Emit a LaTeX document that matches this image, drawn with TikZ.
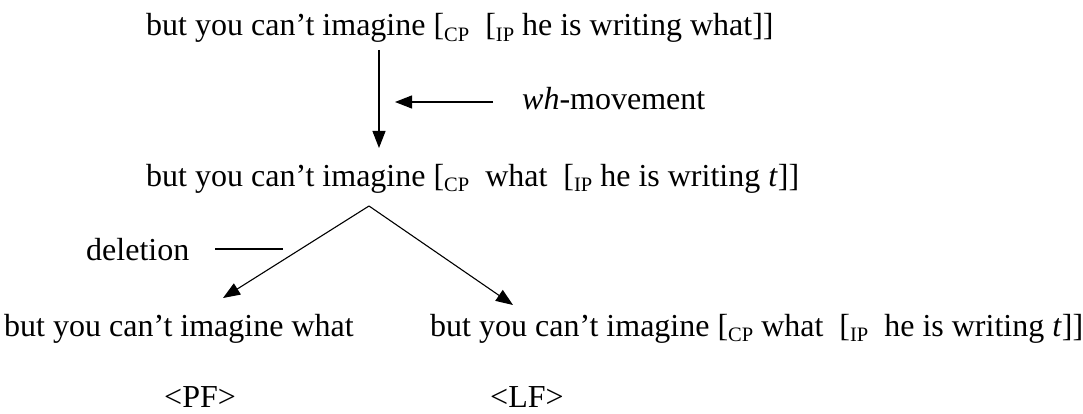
\documentclass[tikz,border=0pt]{standalone}
\usepackage{fontspec}
\setmainfont{Liberation Serif}
\usetikzlibrary{arrows.meta}
\newcommand{\phlab}[1]{\raisebox{-0.35ex}{\fontsize{20.5}{20.5}\selectfont #1}}
\begin{document}
\begin{tikzpicture}[x=1pt,y=-1pt,
  txt/.style={inner sep=0pt, anchor=base west, font=\fontsize{32}{38}\selectfont},
  arr/.style={-{Triangle[length=17pt,width=13pt]}, line width=1.1pt},
  ln/.style={line width=1.1pt}]
\useasboundingbox (0,0) rectangle (1083,414);
\node[txt] (l1) at (146,36) {but you can’t imagine [\phlab{CP}\ \ [\phlab{IP} he is writing what]]};
\coordinate (v1) at (379,50);
\coordinate (v2) at (379,148);
\draw[arr] (v1) -- (v2);
\coordinate (h1) at (493,102);
\coordinate (h2) at (395,102);
\draw[arr] (h1) -- (h2);
\node[txt] (wh) at (522,110) {\textit{wh}-movement};
\node[txt] (l2) at (146,186) {but you can’t imagine [\phlab{CP}\ \ what\ \ [\phlab{IP} he is writing \textit{t}]]};
\coordinate (apex) at (369,206);
\coordinate (lt) at (223,298);
\coordinate (rt) at (513,305);
\draw[arr] (apex) -- (lt);
\draw[arr] (apex) -- (rt);
\coordinate (d1) at (215,249);
\coordinate (d2) at (283,249);
\draw[ln] (d1) -- (d2);
\node[txt] (del) at (86,260) {deletion};
\node[txt] (bl) at (4,336) {but you can’t imagine what};
\node[txt] (br) at (430,336) {but you can’t imagine [\phlab{CP} what\ \ [\phlab{IP}\ \ he is writing \textit{t}]]};
\node[txt] (pf) at (164,407) {<PF>};
\node[txt] (lf) at (490,407) {<LF>};
\end{tikzpicture}
\end{document}
